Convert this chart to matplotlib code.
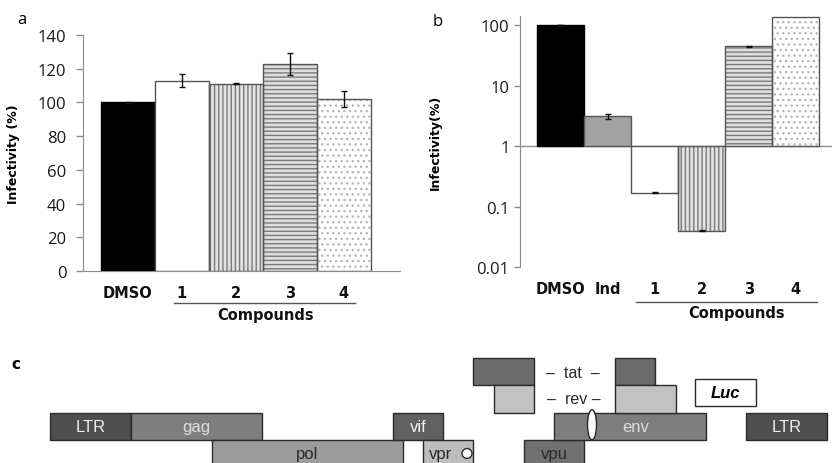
import matplotlib
matplotlib.use("Agg")
import matplotlib.pyplot as plt
import matplotlib.transforms as mtransforms
from matplotlib.patches import Rectangle, Ellipse
import numpy as np

plt.rcParams['font.family'] = ['Open Sans', 'DejaVu Sans']
plt.rcParams['hatch.linewidth'] = 1.0
BOLD = ['DejaVu Sans']

# ---------------- data ----------------
a_labels = ["DMSO", "1", "2", "3", "4"]
a_values = [100, 113, 111, 123, 102]
a_errors = [0.4, 4.0, 0.3, 6.5, 4.5]

b_labels = ["DMSO", "Ind", "1", "2", "3", "4"]
b_values = [100, 3.1, 0.17, 0.04, 45, 135]
b_errors = [0.8, 0.25, 0.002, 0.001, 0.8, 0.0]

a_yticks = [0, 20, 40, 60, 80, 100, 120, 140]
b_yticks = [0.01, 0.1, 1, 10, 100]
b_yticklabels = ["0.01", "0.1", "1", "10", "100"]

# gene map: name, start, end, row
gene_names = ["LTR", "gag", "pol", "vif", "vpr", "tat", "rev", "vpu", "env", "tat", "rev", "LTR"]
gene_start = [50, 131, 212, 393, 423, 473, 494, 524, 554, 615, 615, 746]
gene_end = [131, 262, 403, 443, 473, 534, 534, 584, 706, 655, 676, 827]
gene_row = [2, 2, 3, 2, 3, 0, 1, 3, 2, 0, 1, 2]
gene_shown_label = [True, True, True, True, True, False, False, True, True, False, False, True]

# ---------------- styles ----------------
gray_edge = "#555555"
axis_gray = "#8c8c8c"

# bar styles: (facecolor, hatch, hatchcolor)
style = {
    "DMSO": ("#000000", None, None),
    "Ind": ("#a3a3a3", None, None),
    "1": ("#ffffff", None, None),
    "2": ("#e2e2e2", "||||", "#7a7a7a"),
    "3": ("#dedede", "----", "#7a7a7a"),
    "4": ("#ffffff", "...", "#b8b8b8"),
}

W, H = 832, 464
fig = plt.figure(figsize=(W / 100, H / 100), dpi=100)


def px_axes(x0, y0, x1, y1):
    return fig.add_axes([x0 / W, 1 - y1 / H, (x1 - x0) / W, (y1 - y0) / H])


def draw_bars(ax, labels, values, bottom=0.0):
    x = np.arange(len(labels))
    heights = [v - bottom for v in values]
    for xi, lab, h in zip(x, labels, heights):
        fc, hatch, hc = style[lab]
        if hatch:
            ax.bar(xi, h, width=1.0, bottom=bottom, color=fc, edgecolor=hc,
                   hatch=hatch, linewidth=0, zorder=2)
            ax.bar(xi, h, width=1.0, bottom=bottom, fill=False,
                   edgecolor=gray_edge, linewidth=1.0, zorder=3)
        else:
            ec = "#000000" if lab == "DMSO" else gray_edge
            ax.bar(xi, h, width=1.0, bottom=bottom, color=fc, edgecolor=ec,
                   linewidth=1.0, zorder=3)
    return x


def style_axes(ax):
    for s in ["top", "right"]:
        ax.spines[s].set_visible(False)
    ax.spines["left"].set_color(axis_gray)
    ax.spines["bottom"].set_color(axis_gray)
    ax.tick_params(axis="y", colors=axis_gray, labelcolor="#1a1a1a",
                   labelsize=12, length=4, width=1)
    ax.tick_params(axis="x", length=0)


def bold_xticks(ax, x, labels):
    ax.set_xticks(x)
    ax.set_xticklabels(labels, fontweight="bold", fontsize=10.5, family=BOLD,
                       color="#111111")
    ax.tick_params(axis="x", pad=10)


# ---------------- panel a ----------------
axa = px_axes(83, 36, 400, 272)
xa = draw_bars(axa, a_labels, a_values)
axa.errorbar(xa, a_values, yerr=a_errors, fmt="none", ecolor="#111111",
             elinewidth=1.0, capsize=2.5, capthick=1.0, zorder=4)
axa.set_xlim(-0.83, 5.04)
axa.set_ylim(0, 140)
axa.set_yticks(a_yticks)
style_axes(axa)
axa.tick_params(axis="y", pad=7, length=5)
bold_xticks(axa, xa, a_labels)
axa.set_ylabel("Infectivity (%)", fontweight="bold", fontsize=9, family=BOLD)
axa.yaxis.set_label_coords(-0.199, 0.5)
ta = mtransforms.blended_transform_factory(axa.transData, axa.transAxes)
axa.plot([xa[1] - 0.15, xa[4] + 0.2], [-0.135, -0.135], color="#555555",
         lw=1.0, transform=ta, clip_on=False)
axa.text((xa[1] + xa[4]) / 2 + 0.05, -0.185, "Compounds", transform=ta,
         ha="center", va="center", fontweight="bold", fontsize=10.5,
         family=BOLD, color="#111111")

# ---------------- panel b ----------------
axb = px_axes(520, 17, 832, 268)
axb.set_yscale("log")
xb = draw_bars(axb, b_labels, b_values, bottom=1.0)
b_err_mask = [e > 0 for e in b_errors]
axb.errorbar(xb[b_err_mask], np.array(b_values)[b_err_mask],
             yerr=np.array(b_errors)[b_err_mask], fmt="none", ecolor="#111111",
             elinewidth=1.0, capsize=2, capthick=1.0, zorder=4)
axb.set_xlim(-0.86, 5.77)
axb.set_ylim(0.01, 142)
axb.axhline(1, color=axis_gray, lw=1.0, zorder=1)
style_axes(axb)
axb.spines["bottom"].set_visible(False)
axb.yaxis.set_major_locator(matplotlib.ticker.FixedLocator(b_yticks))
axb.yaxis.set_major_formatter(matplotlib.ticker.FixedFormatter(b_yticklabels))
axb.yaxis.set_minor_locator(matplotlib.ticker.NullLocator())
axb.tick_params(axis="y", pad=3.5, length=4)
bold_xticks(axb, xb, b_labels)
axb.set_ylabel("Infectivity(%)", fontweight="bold", fontsize=9, family=BOLD)
axb.yaxis.set_label_coords(-0.25, 0.5)
tb = mtransforms.blended_transform_factory(axb.transData, axb.transAxes)
axb.plot([xb[2] - 0.4, xb[5] + 0.45], [-0.14, -0.14], color="#555555",
         lw=1.0, transform=tb, clip_on=False)
axb.text((xb[2] + xb[5]) / 2 + 0.25, -0.18, "Compounds", transform=tb,
         ha="center", va="center", fontweight="bold", fontsize=10.5,
         family=BOLD, color="#111111")

# panel letters
fig.text(22 / W, 1 - 20 / H, "a", fontsize=12, ha="center", va="center")
fig.text(438 / W, 1 - 22 / H, "b", fontsize=12, ha="center", va="center")
fig.text(16 / W, 1 - 365 / H, "c", fontsize=11, ha="center", va="center",
         fontweight="bold", family=BOLD)

# ---------------- panel c (gene map) ----------------
axc = px_axes(0, 345, 832, 464)
axc.set_xlim(0, 832)
axc.set_ylim(3.85, -0.51)
axc.axis("off")

gene_color = {"LTR": "#4e4e4e", "gag": "#7e7e7e", "pol": "#9c9c9c",
              "vif": "#606060", "vpr": "#bdbdbd", "tat": "#6b6b6b",
              "rev": "#c2c2c2", "vpu": "#717171", "env": "#7e7e7e"}
gene_text = {"LTR": "#eeeeee", "gag": "#dddddd", "pol": "#2a2a2a",
             "vif": "#f0f0f0", "vpr": "#2a2a2a", "vpu": "#2a2a2a",
             "env": "#dddddd"}

c_font = ["Liberation Sans", "DejaVu Sans"]
for name, s, e, r, show in zip(gene_names, gene_start, gene_end, gene_row,
                               gene_shown_label):
    axc.add_patch(Rectangle((s, r), e - s, 1.0, facecolor=gene_color[name],
                            edgecolor="#2a2a2a", linewidth=1.0, zorder=2))
    if show:
        cx = (s + e) / 2
        if name == "vpr":
            cx = s + 18
        if name == "env":
            cx = s + 82
        axc.text(cx, r + 0.5, name, ha="center", va="center", fontsize=12,
                 color=gene_text[name], family=c_font, zorder=3)

# env splice ellipse and vpr circle
env_i = gene_names.index("env")
axc.add_patch(Ellipse((592, gene_row[env_i] + 0.45), 9, 1.1, facecolor="white",
                      edgecolor="#2a2a2a", linewidth=1.0, zorder=4))
vpr_i = gene_names.index("vpr")
axc.add_patch(Ellipse((467, gene_row[vpr_i] + 0.5), 10, 0.36,
                      facecolor="white", edgecolor="#2a2a2a", linewidth=1.0,
                      zorder=4))

# tat / rev labels
axc.text(573, 0.55, "–  tat  –", ha="center", va="center", fontsize=11.5,
         color="#2a2a2a", family=c_font)
axc.text(574, 1.5, "–  rev –", ha="center", va="center", fontsize=11.5,
         color="#2a2a2a", family=c_font)

# Luc box
axc.add_patch(Rectangle((695, 0.77), 61, 0.98, facecolor="white",
                        edgecolor="#2a2a2a", linewidth=1.0, zorder=2))
axc.text(725.5, 1.27, "Luc", ha="center", va="center", fontsize=12,
         fontweight="bold", fontstyle="italic", family=c_font, zorder=3)

fig.savefig("out.png", dpi=100)
